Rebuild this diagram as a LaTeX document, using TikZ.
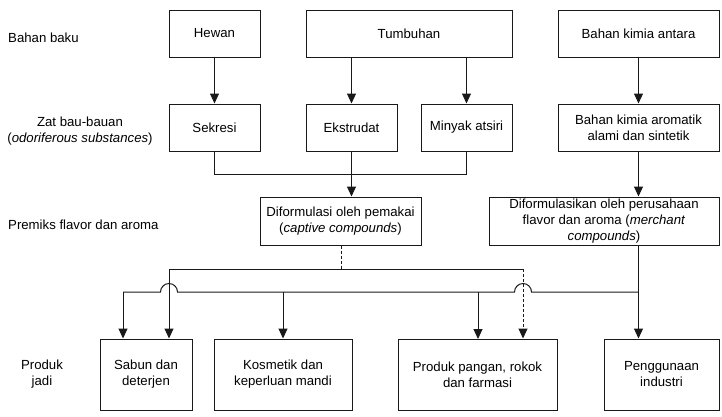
\documentclass[tikz,border=0pt]{standalone}
\usepackage{fontspec}
\setmainfont{Liberation Sans}
\usetikzlibrary{arrows.meta}
\begin{document}
\begin{tikzpicture}[x=1pt,y=-1pt,
  every node/.style={font=\fontsize{13.2}{16}\selectfont, align=center, inner sep=0pt},
  stepbox/.style={draw=black!90, line width=1pt, minimum height=47pt},
  conn/.style={draw=black!90, line width=1pt},
  dsh/.style={dash pattern=on 3pt off 2pt},
  arr/.style={conn, -{Triangle[width=9pt,length=10pt]}}]
\useasboundingbox (0,0) rectangle (722,416);
% row 1
\node[stepbox, minimum width=91pt] (hewan) at (214.5,33.5) {Hewan};
\node[stepbox, minimum width=206pt] (tumb) at (409,33.5) {Tumbuhan};
\node[stepbox, minimum width=161pt] (antara) at (638.5,33.5) {Bahan kimia antara};
% row 2
\node[stepbox, minimum width=91pt] (sekresi) at (214.5,127.5) {Sekresi};
\node[stepbox, minimum width=91pt] (ekstr) at (351.5,127.5) {Ekstrudat};
\node[stepbox, minimum width=91pt] (minyak) at (466.5,127.5) {Minyak atsiri};
\node[stepbox, minimum width=161pt] (arom) at (638.5,127.5) {Bahan kimia aromatik\\alami dan sintetik};
% row 3
\node[stepbox, minimum width=161pt, minimum height=48pt] (pemakai) at (340.5,221) {Diformulasi oleh pemakai\\(\textit{captive compounds})};
\node[stepbox, minimum width=230pt, minimum height=48pt] (merchant) at (604,221) {Diformulasikan oleh perusahaan\\flavor dan aroma (\textit{merchant}\\\textit{compounds})};
% row 4
\node[stepbox, minimum width=92pt, minimum height=71pt] (sabun) at (146,374.5) {Sabun dan\\deterjen};
\node[stepbox, minimum width=138pt, minimum height=71pt] (kosm) at (283,374.5) {Kosmetik dan\\keperluan mandi};
\node[stepbox, minimum width=159pt, minimum height=71pt] (pangan) at (477.5,374.5) {Produk pangan, rokok\\dan farmasi};
\node[stepbox, minimum width=115pt, minimum height=71pt] (indus) at (661.5,374.5) {Penggunaan\\industri};
% left labels
\node[anchor=west] (l1) at (8,38) {Bahan baku};
\node (l2) at (80,131) {Zat bau-bauan\\(\textit{odoriferous substances})};
\node[anchor=west] (l3) at (8,225) {Premiks flavor dan aroma};
\node (l4) at (42,374) {Produk\\jadi};
% arrows top
\draw[arr] (hewan.south) -- (sekresi.north);
\draw[arr] (tumb.south -| ekstr.north) -- (ekstr.north);
\draw[arr] (tumb.south -| minyak.north) -- (minyak.north);
\draw[arr] (antara.south) -- (arom.north);
\coordinate (j1) at (214.5,174);
\coordinate (j2) at (466.5,174);
\draw[conn] (sekresi.south) -- (j1) -- (j2) -- (minyak.south);
\draw[arr] (ekstr.south) -- (ekstr.south |- pemakai.north);
\draw[arr] (arom.south) -- (arom.south |- merchant.north);
% captive line
\coordinate (c0) at (341,269);
\coordinate (cl) at (169,269);
\coordinate (cr) at (523,269);
\draw[conn, dsh] (c0 |- pemakai.south) -- (c0);
\draw[conn] (cl) -- (cr);
\draw[arr] (cl) -- (cl |- sabun.north);
\draw[arr, dsh] (cr) -- (cr |- pangan.north);
% merchant line
\coordinate (m0) at (638.5,292);
\coordinate (ml) at (123,292);
\draw[arr] (merchant.south -| m0) -- (m0 |- indus.north);
\draw[conn] (m0) -- (531.5,292) arc[start angle=0,end angle=180,radius=8.5pt] -- (177.5,292) arc[start angle=0,end angle=180,radius=8.5pt] -- (ml);
\draw[arr] (ml) -- (ml |- sabun.north);
\draw[arr] (kosm.north |- m0) -- (kosm.north);
\draw[arr] (478,292) -- (478,339);
\end{tikzpicture}
\end{document}
